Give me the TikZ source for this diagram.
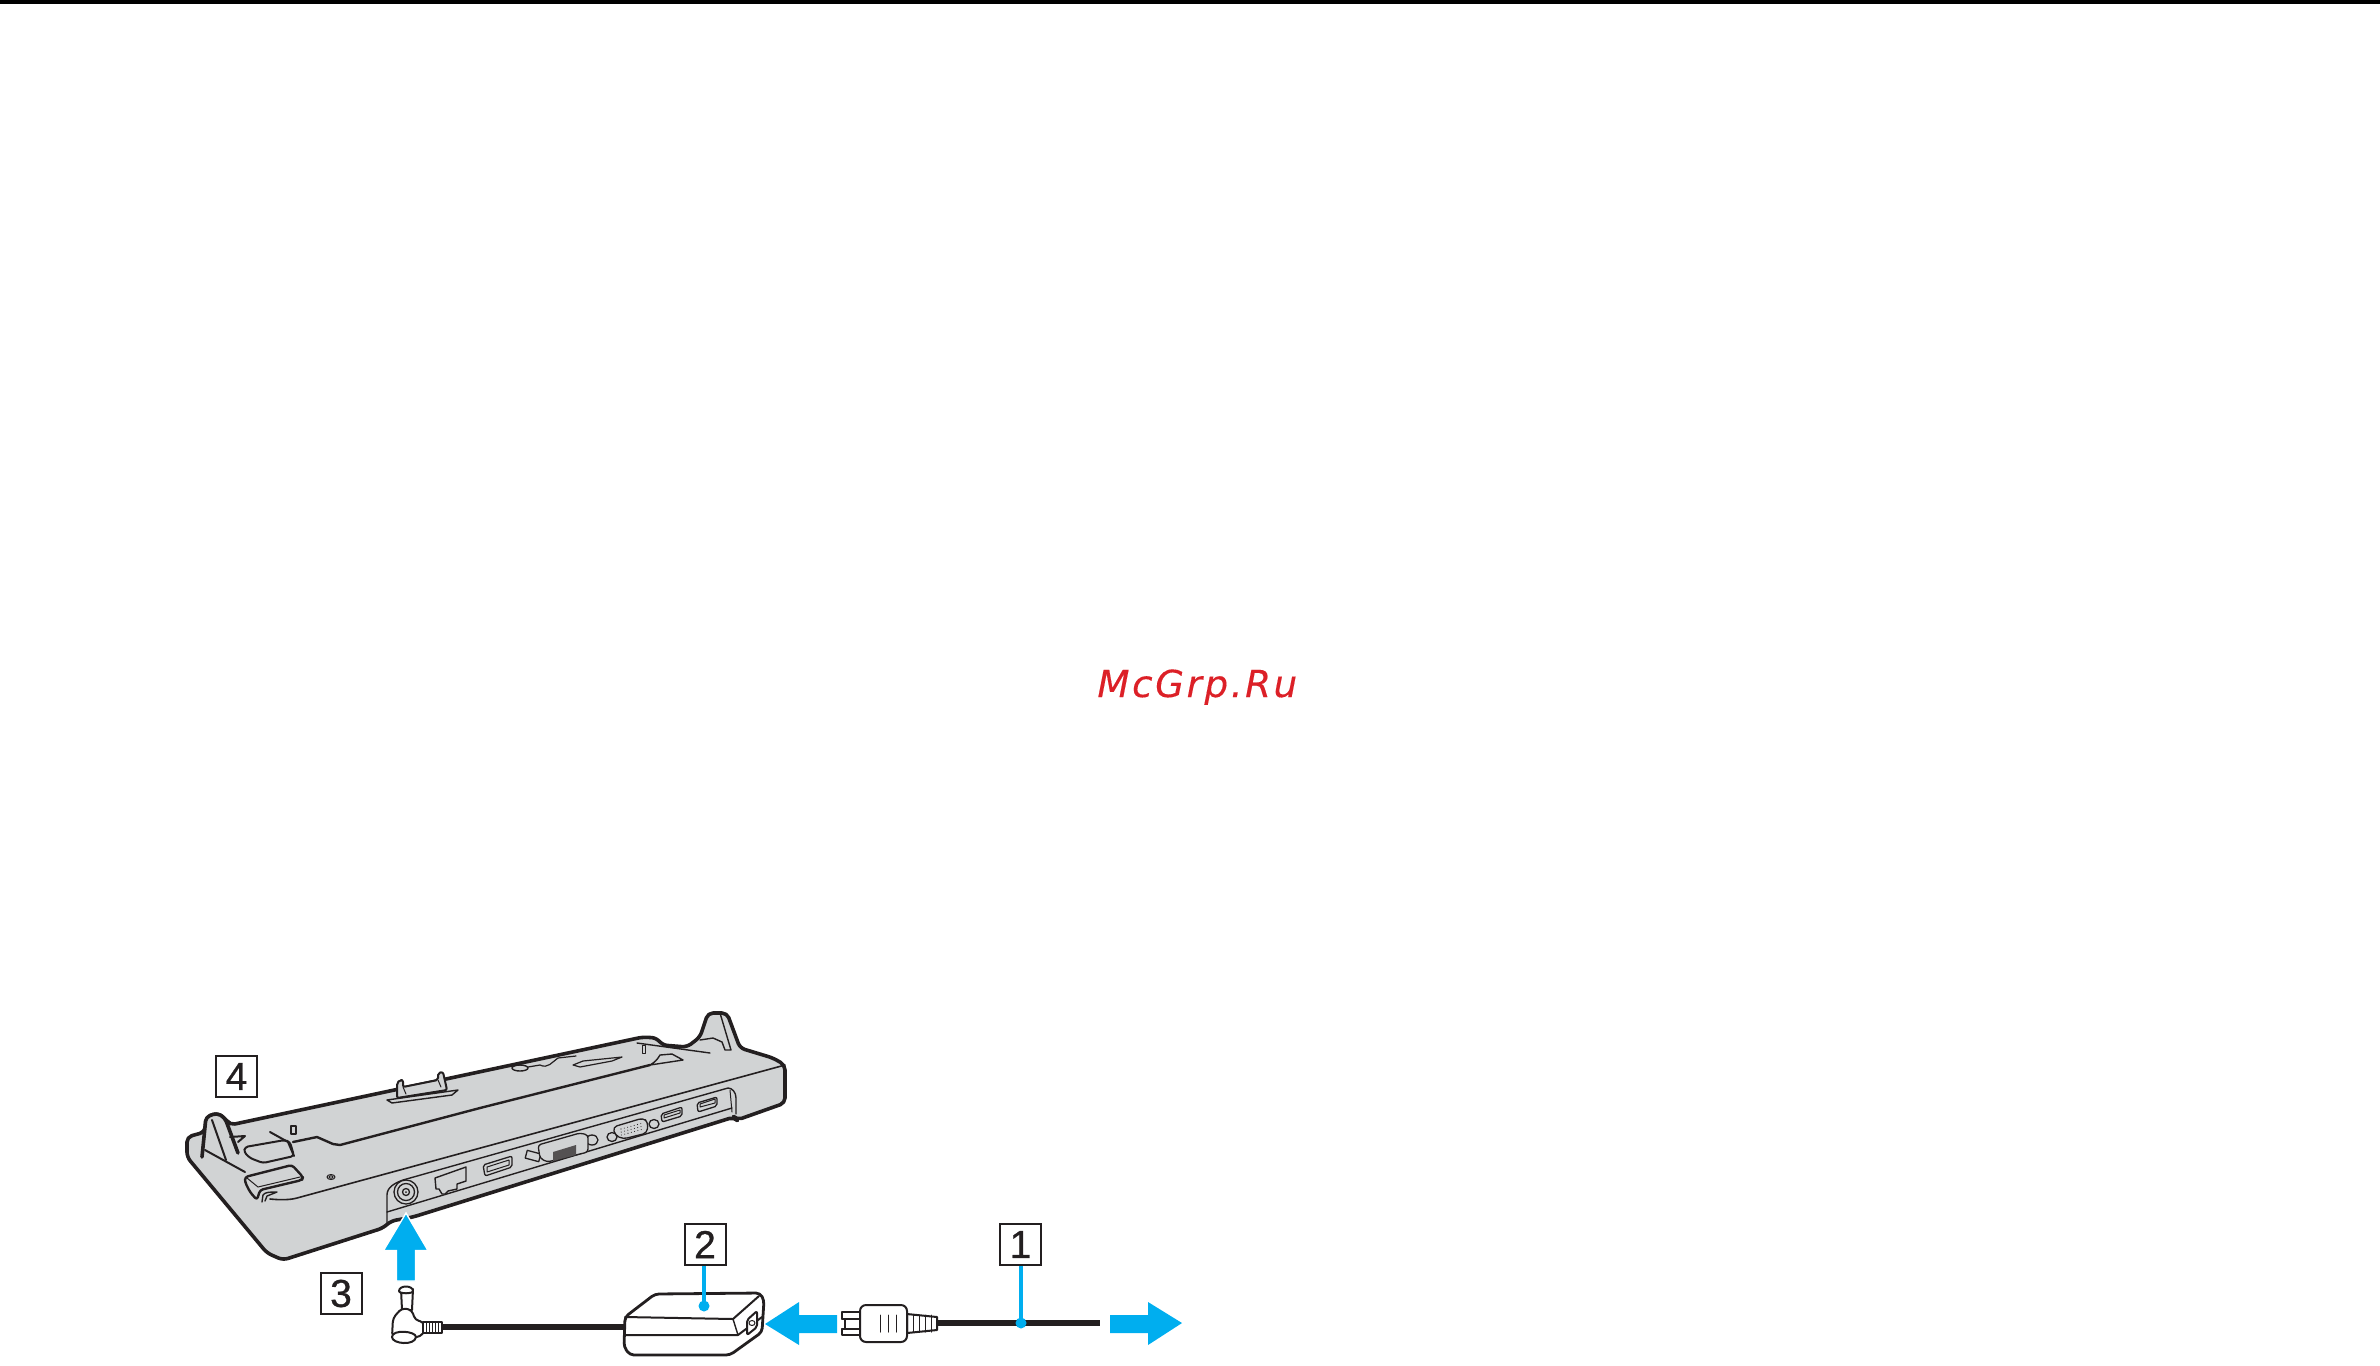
\documentclass[tikz,border=0pt]{standalone}
\usepackage{fontspec}
\setmainfont{Liberation Sans}
\newfontfamily\wmfont[FakeBold=0.25,LetterSpace=7]{DejaVu Sans}
\newfontfamily\numfont[FakeBold=0.7]{Liberation Sans}
\definecolor{ink}{HTML}{231F20}
\definecolor{body}{HTML}{D1D3D4}
\definecolor{cyanmark}{HTML}{00AEEF}
\definecolor{wm}{HTML}{DC2027}
\tikzset{
  x=0.5pt,y=-0.5pt,
  numbox/.style={draw=ink,line width=1pt,fill=white,minimum width=20.5pt,minimum height=20.5pt,inner sep=0pt,text=ink,font=\numfont\fontsize{19.5}{20}\selectfont},
  outer/.style={draw=ink,line width=1.8pt,line join=round,line cap=round},
  mid/.style={draw=ink,line width=1pt,line join=round,line cap=round},
  thin line/.style={draw=ink,line width=0.5pt,line join=round,line cap=round},
  cord/.style={draw=ink,line width=2.9pt},
  leader/.style={draw=cyanmark,line width=2pt},
  bluearrow/.style={fill=cyanmark,line join=miter},
  port/.style={draw=ink,line width=0.65pt,fill=body,line join=round}
}
\begin{document}
\begin{tikzpicture}
\useasboundingbox (0,0) rectangle (2380,1365);
\fill[black] (0,0) rectangle (2380,3.5);
% watermark
\node[anchor=base west,inner sep=0pt,text=wm] (wmark) at (1097,697)
  {\wmfont\fontsize{18.6}{20}\selectfont\itshape McGrp.Ru};
% dock body
\path[fill=body,outer,rounded corners=2.5pt]
  (205,1132) -- (187,1137) -- (187,1157) -- (267,1253) -- (283,1260) -- (383,1228) -- (391,1221)
  -- (413,1217) -- (734,1117) -- (737,1120) -- (785,1103) -- (785,1065) -- (773,1058) -- (740,1048)
  -- (727,1013) -- (708,1013) -- (700,1037) -- (687,1047) -- (662,1045) -- (657,1038) -- (643,1037)
  -- (230,1125) -- (225,1118) -- (217,1113) -- (206,1117) -- cycle;
% left post
\path[fill=body,outer,rounded corners=2pt] (202,1157) -- (206,1117) -- (217,1113) -- (225,1118) -- (238,1153);
\path[mid] (212,1120) -- (226,1160);
\path[mid] (205,1150) -- (245,1172);
% top edge and panel lines
\path[mid,line width=1.2pt] (480,1108) -- (650,1065);
\path[outer,line width=1.2pt] (480,1108) -- (340,1145) -- (333,1144) -- (317,1137) -- (293,1142);
\path[thin line,line width=0.7pt] (650,1065) -- (683,1060) -- (672,1054) -- (660,1055) .. controls (657,1060) and (655,1062) .. (650,1065);
\path[thin line,line width=0.7pt] (637,1043) -- (710,1053);
\draw[thin line] (642,1045) rectangle (645,1053);
\path[thin line,line width=0.8pt] (785,1065) -- (297,1198) .. controls (290,1200) and (280,1200) .. (270,1199);
% right post details
\path[thin line,line width=0.7pt] (720,1013) -- (731,1050) -- (725,1050) -- (722,1042) -- (713,1038) -- (700,1040);
% left hook pieces
\path[fill=body,mid,rounded corners=1.5pt] (245,1147) -- (285,1140) -- (290,1142) -- (294,1156) -- (263,1163) -- (250,1158) -- (244,1152) -- cycle;
\path[mid] (270,1132) -- (288,1142) -- (294,1156);
\draw[thin line,line width=0.7pt] (291,1126) rectangle (296,1134);
\path[mid] (230,1137) -- (245,1136) -- (238,1142);
\path[fill=body,mid,line width=1.2pt,rounded corners=1.5pt] (245,1177) -- (292,1165) -- (303,1177) -- (302,1180) -- (260,1190) -- (257,1200) -- (250,1192) -- (245,1182) -- cycle;
\path[thin line] (247,1178) -- (258,1187) -- (300,1177);
\path[thin line,line width=0.7pt] (262,1202) -- (263,1195) .. controls (265,1192) and (270,1192) .. (277,1192) -- (267,1196) -- (265,1201);
\draw[thin line] (331,1177) ellipse (4 and 2.5);
\draw[thin line] (331,1177) ellipse (2 and 1.2);
% center hook
\path[fill=body,thin line,line width=0.7pt] (387,1100) -- (458,1090) -- (452,1095) -- (392,1103) -- cycle;
\path[fill=body,mid,rounded corners=1pt] (397,1098) -- (397,1083) -- (400,1080) -- (403,1080) -- (403,1087) -- (438,1080) -- (438,1073) -- (443,1072) -- (447,1090) -- cycle;
\path[thin line] (403,1087) -- (406,1094);
\path[thin line] (438,1080) -- (441,1087);
% logo and slot
\draw[thin line,line width=0.7pt] (520,1068) ellipse (8 and 3);
\path[thin line,line width=0.6pt] (528,1067) -- (540,1065) .. controls (548,1069) and (552,1062) .. (558,1058) -- (576,1056);
\path[thin line,line width=0.6pt] (573,1065) -- (583,1061) -- (622,1057) -- (612,1061) -- (580,1067) -- cycle;
% port panel
\path[thin line,line width=0.7pt] (387,1223) -- (387,1195) .. controls (387,1187) and (395,1183) .. (403,1180) -- (728,1088) .. controls (732,1088) and (736,1092) .. (736,1098) -- (736,1114);
\path[thin line] (730,1090) -- (732,1112);
\path[thin line,line width=0.7pt] (387,1212) -- (732,1108);
% DC jack
\draw[port] (406,1192) circle (12);
\draw[port] (406,1192) circle (8.5);
\draw[port] (406,1192) circle (3.5);
\fill[ink] (406,1192) circle (1);
% RJ45
\draw[port,line width=0.7pt] (435,1178) -- (466,1167) -- (466,1181) -- (457,1184) -- (457,1189) -- (448,1191) -- (445,1194) -- (442,1194) -- (439,1189) -- (436,1189) -- cycle;
% USB 1
\draw[port,rounded corners=1pt] (483,1165) -- (512,1156) -- (512,1167) -- (485,1176) -- cycle;
\draw[thin line] (487,1167) -- (509,1160) -- (509,1165) -- (487,1172) -- cycle;
% DVI
\draw[port,rotate around={-15:(533,1156)}] (526,1152) rectangle (540,1160);
\draw[port] (592,1140) ellipse (6 and 5);
\draw[port,rounded corners=1.5pt] (538,1145) -- (580,1133) -- (588,1135) -- (588,1152) -- (547,1162) -- (540,1158) -- cycle;
\fill[ink!72!body] (553,1152) -- (576,1145) -- (576,1155) -- (553,1161) -- cycle;
% VGA
\draw[port] (612,1137) ellipse (5 and 4.5);
\draw[port] (654,1124) ellipse (5 and 4.5);
\draw[port,rounded corners=2pt] (613,1127) -- (643,1118) -- (648,1122) -- (647,1133) -- (623,1139) -- (615,1135) -- cycle;
\foreach \i in {0,...,6} \foreach \j in {0,1,2} {
  \fill[ink] ({621+\i*3.3+\j*0.2},{1129-\i*0.9+\j*3}) circle (0.55);
}
% USB 2 and 3
\draw[port,rounded corners=1pt] (661,1114) -- (682,1107) -- (682,1116) -- (662,1122) -- cycle;
\draw[thin line] (664,1115) -- (680,1110) -- (680,1113) -- (664,1118) -- cycle;
\draw[port,rounded corners=1pt] (697,1103) -- (717,1097) -- (717,1106) -- (698,1112) -- cycle;
\draw[thin line] (700,1104) -- (715,1099) -- (715,1103) -- (700,1107) -- cycle;
% number boxes
\node[numbox] (n4) at (236.5,1076.5) {4};
\node[numbox] (n3) at (341,1293.5) {3};
\node[numbox] (n2) at (705,1244.5) {2};
\node[numbox] (n1) at (1020.5,1244.5) {1};
% cords
\coordinate (cordL) at (442,1327);
\coordinate (adL) at (625,1327);
\coordinate (cordR) at (937,1323);
\coordinate (cordE) at (1100,1323);
\draw[cord] (cordL) -- (adL);
\draw[cord] (cordR) -- (cordE);
% adapter
\path[fill=white,outer,line width=1.4pt,rounded corners=2pt] (625,1317) -- (655,1294) -- (760,1293) -- (764,1300) -- (762,1332) -- (730,1355) -- (630,1355) -- (624,1347) -- cycle;
\path[mid] (625,1317) -- (733,1319) -- (759,1296);
\path[mid] (625,1335) -- (738,1335) -- (762,1317);
\path[thin line,line width=0.7pt] (733,1319) -- (738,1335);
\draw[mid,rounded corners=1pt,fill=white] (747,1320) -- (757,1311) -- (757,1327) -- (747,1335) -- cycle;
\draw[thin line] (752,1323) ellipse (3 and 2.5);
% DC plug
\draw[mid,fill=white] (401,1289) -- (402,1310) -- (412,1310) -- (413,1289);
\draw[mid,fill=white] (399,1291) .. controls (399,1285) and (413,1285) .. (413,1291) .. controls (413,1294) and (399,1294) .. (399,1291) -- cycle;
\draw[mid,fill=white,rounded corners=2pt] (402,1308) -- (412,1310) -- (415,1320) -- (424,1322) -- (424,1334) -- (415,1338) -- (392,1337) -- (393,1318) -- cycle;
\draw[mid,fill=white] (392,1337) .. controls (392,1344) and (415,1346) .. (416,1337) .. controls (416,1331) and (392,1329) .. (392,1337) -- cycle;
\draw[mid,fill=white] (423,1322) -- (442,1322) -- (442,1333) -- (423,1333) -- cycle;
\foreach \xx in {426,429,432,435,438} { \draw[thin line] (\xx,1322) -- (\xx,1333); }
% mains plug
\draw[mid,fill=white] (842,1312) -- (860,1312) -- (860,1335) -- (842,1335) -- (842,1329) -- (845,1329) -- (845,1319) -- (842,1319) -- cycle;
\draw[thin line,line width=0.7pt] (842,1319) -- (860,1319) (842,1329) -- (860,1329);
\draw[mid,fill=white] (907,1314) -- (937,1317) -- (937,1330) -- (907,1333) -- cycle;
\foreach \xx in {913,919,925,931} { \draw[thin line] (\xx,1315) -- (\xx,1332); }
\draw[mid,fill=white,rounded corners=3pt] (860,1305) -- (907,1305) -- (907,1342) -- (860,1342) -- cycle;
\foreach \xx in {880,888,896} { \draw[thin line] (\xx,1315) -- (\xx,1332); }
% leaders
\coordinate (dot2) at (704,1306);
\coordinate (dot1) at (1021,1323);
\draw[leader] (n2.south -| dot2) -- (dot2);
\fill[cyanmark] (dot2) circle (5.5);
\draw[leader] (n1.south -| dot1) -- (dot1);
\fill[cyanmark] (dot1) circle (5.5);
% arrows
\path[bluearrow,draw=white,line width=0.7pt] (406,1213) -- (428,1250.5) -- (415.5,1250.5) -- (415.5,1281) -- (396.5,1281) -- (396.5,1250.5) -- (383.5,1250.5) -- cycle;
\path[bluearrow] (765,1324) -- (799,1302) -- (799,1315) -- (837,1315) -- (837,1333) -- (799,1333) -- (799,1345) -- cycle;
\path[bluearrow] (1182,1323) -- (1148,1302) -- (1148,1315) -- (1110,1315) -- (1110,1333) -- (1148,1333) -- (1148,1345) -- cycle;
\end{tikzpicture}
\end{document}
